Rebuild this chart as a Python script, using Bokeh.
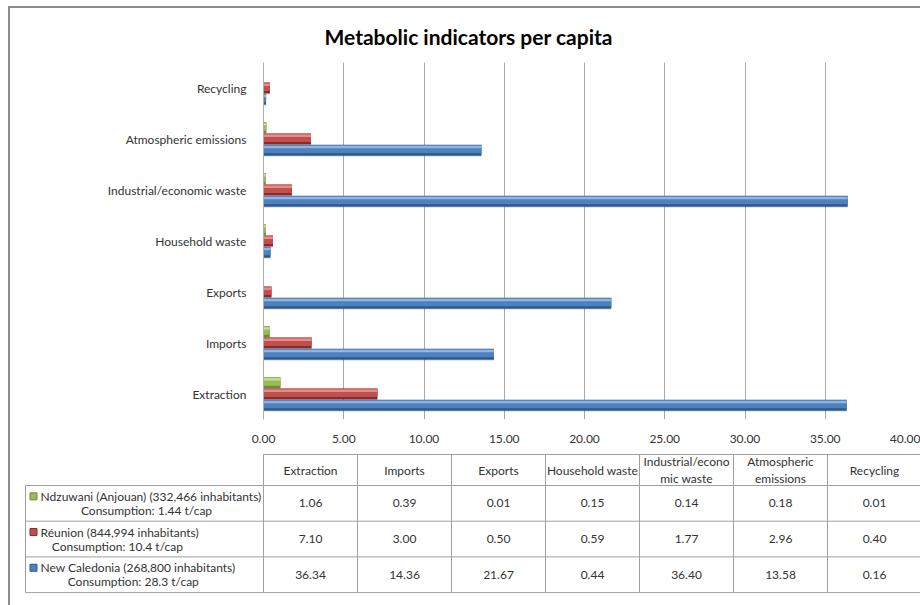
from bokeh.plotting import figure
from bokeh.layouts import column
from bokeh.models import FactorRange, Range1d, FixedTicker, NumeralTickFormatter
from bokeh.transform import dodge
from bokeh.core.properties import value
from bokeh.embed import file_html
from bokeh.resources import INLINE

# ---------------- data ----------------
categories = ["Extraction", "Imports", "Exports", "Household waste",
              "Industrial/economic waste", "Atmospheric emissions", "Recycling"]
ndzuwani = [1.06, 0.39, 0.01, 0.15, 0.14, 0.18, 0.01]
reunion = [7.10, 3.00, 0.50, 0.59, 1.77, 2.96, 0.40]
new_caledonia = [36.34, 14.36, 21.67, 0.44, 36.40, 13.58, 0.16]
series_names = ["Ndzuwani (Anjouan) (332,466 inhabitants)",
                "Réunion (844,994 inhabitants)",
                "New Caledonia (268,800 inhabitants)"]
consumption = ["Consumption: 1.44 t/cap", "Consumption: 10.4 t/cap", "Consumption: 28.3 t/cap"]
header_labels = ["Extraction", "Imports", "Exports", "Household waste",
                 "Industrial/econo\nmic waste", "Atmospheric\nemissions", "Recycling"]
x_ticks = [0, 5, 10, 15, 20, 25, 30, 35, 40]
title_text = "Metabolic indicators per capita"

FONT = "Lato"
TXT = "#333333"

# colours: main, light, dark
palette = [("#9BBB59", "#c9e096", "#6f8a3a"),
           ("#C0504D", "#e68c89", "#8a2b29"),
           ("#4F81BD", "#8fb5e4", "#2b5890")]
offsets = [0.222, 0.0, -0.222]
series_vals = [ndzuwani, reunion, new_caledonia]

PX0 = 10   # page x where figures start (after border)
PY0 = 8    # page y where figures start
W = 920 - PX0
TOP_T = 445
H1 = TOP_T - PY0

# ---------------- chart ----------------
p = figure(width=W, height=H1, y_range=FactorRange(factors=categories),
           x_range=Range1d(0, 40), output_backend="svg", toolbar_location=None,
           min_border_left=263 - PX0, min_border_right=PX0 + W - 905,
           min_border_top=61 - PY0, min_border_bottom=H1 - (421 - PY0))
p.frame_align = False
p.outline_line_color = None
p.background_fill_color = "white"

p.title.text = title_text
p.title.align = "left"
p.title.text_font = FONT
p.title.text_font_size = "21px"
p.title.text_font_style = "bold"
p.title.text_color = "#000000"
p.title.offset = 61
p.title.standoff = 27

h = 0.215
for vals, off, (main, light, dark) in zip(series_vals, offsets, palette):
    data = dict(cat=categories, v=vals)
    p.hbar(y=dodge("cat", off - 0.025, range=p.y_range), left=0, right="v", height=h,
           source=data, fill_color="#000000", fill_alpha=0.10, line_color=None)
    p.hbar(y=dodge("cat", off, range=p.y_range), left=0, right="v", height=h,
           source=data, fill_color=dark, line_color=None)
    p.hbar(y=dodge("cat", off + 0.1 * h, range=p.y_range), left=0, right="v", height=0.74 * h,
           source=data, fill_color=main, line_color=None)
    p.hbar(y=dodge("cat", off + 0.3 * h, range=p.y_range), left=0, right="v", height=0.22 * h,
           source=data, fill_color=light, line_color=None)

p.xaxis.ticker = FixedTicker(ticks=x_ticks)
p.xaxis.formatter = NumeralTickFormatter(format="0.00")
p.xaxis.axis_line_color = None
p.xaxis.major_tick_line_color = None
p.xaxis.minor_tick_line_color = None
p.xaxis.major_label_standoff = 9
p.xaxis.major_label_text_font = FONT
p.xaxis.major_label_text_font_size = "12px"
p.xaxis.major_label_text_color = TXT

p.yaxis.axis_line_color = "#b0b0b0"
p.yaxis.major_tick_line_color = None
p.yaxis.minor_tick_line_color = None
p.yaxis.major_label_standoff = 11
p.yaxis.major_label_text_font = FONT
p.yaxis.major_label_text_font_size = "12px"
p.yaxis.major_label_text_color = TXT

p.xgrid.ticker = FixedTicker(ticks=x_ticks)
p.xgrid.grid_line_color = "#a8a8a8"
p.ygrid.grid_line_color = None

# ---------------- data table ----------------
t = figure(width=W, height=605 - TOP_T, x_range=Range1d(PX0, PX0 + W), y_range=Range1d(605, TOP_T),
           output_backend="svg", toolbar_location=None, x_axis_type=None, y_axis_type=None,
           min_border=0)
t.frame_align = False
t.outline_line_color = None
t.grid.grid_line_color = None

col_left, col_w = 263, 94
lab_left = 25
head_top, head_bot = 454, 485
row_h = 35.7
ncol = len(header_labels)
nrow = len(series_names)
right_edge = col_left + ncol * col_w

x0s, y0s, x1s, y1s = [], [], [], []
x0s.append(col_left); x1s.append(right_edge); y0s.append(head_top); y1s.append(head_top)
for k in range(nrow + 1):
    yy = head_bot + k * row_h
    x0s.append(lab_left); x1s.append(right_edge); y0s.append(yy); y1s.append(yy)
bottom = head_bot + nrow * row_h
x0s.append(lab_left); x1s.append(lab_left); y0s.append(head_bot); y1s.append(bottom)
for i in range(ncol + 1):
    xx = col_left + i * col_w
    x0s.append(xx); x1s.append(xx); y0s.append(head_top); y1s.append(bottom)
t.segment(x0=x0s, y0=y0s, x1=x1s, y1=y1s, line_color="#a0a0a0", line_width=1)

hx = [col_left + (i + 0.5) * col_w for i in range(ncol)]
t.text(x=hx, y=[(head_top + head_bot) / 2] * ncol, text=header_labels,
       text_align="center", text_baseline="middle", text_font=value(FONT),
       text_font_size="12px", text_color=TXT, text_line_height=1.15)

vx, vy, vt = [], [], []
for r, vals in enumerate(series_vals):
    for i, v in enumerate(vals):
        vx.append(col_left + (i + 0.5) * col_w)
        vy.append(head_bot + (r + 0.5) * row_h)
        vt.append("%.2f" % v)
t.text(x=vx, y=vy, text=vt, text_align="center", text_baseline="middle",
       text_font=value(FONT), text_font_size="12px", text_color=TXT)

key_x, text_x = 33, 40
cy = [head_bot + (r + 0.5) * row_h for r in range(nrow)]
t.rect(x=[key_x] * nrow, y=[c - 7 for c in cy], width=7, height=7,
       fill_color=[c[0] for c in palette], line_color=[c[2] for c in palette])
t.text(x=[text_x] * nrow, y=[c - 7 for c in cy], text=series_names,
       text_align="left", text_baseline="middle", text_font=value(FONT),
       text_font_size="12px", text_color=TXT)
t.text(x=[text_x + len(n) * 5.3 / 2 for n in series_names], y=[c + 7 for c in cy],
       text=consumption, text_align="center", text_baseline="middle",
       text_font=value(FONT), text_font_size="12px", text_color=TXT)

layout = column(p, t, spacing=0,
                styles={"border-left": "2px solid #8c8c8c", "border-top": "2px solid #8c8c8c",
                        "margin-left": "8px", "margin-top": "6px"})
open("out.html", "w").write(file_html(layout, INLINE))
